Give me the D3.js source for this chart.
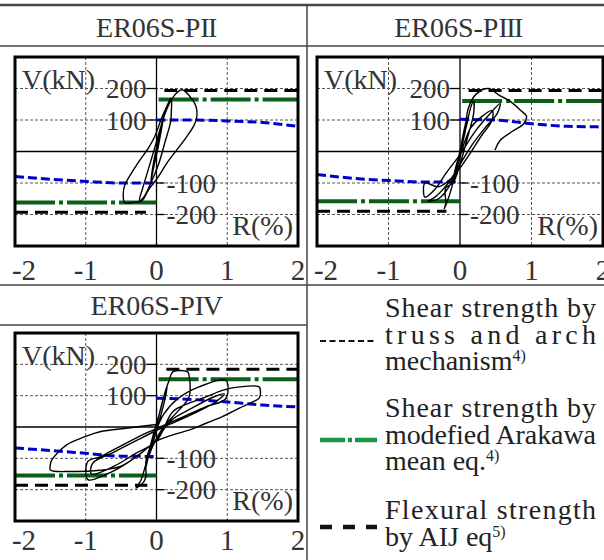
<!DOCTYPE html>
<html>
<head>
<meta charset="utf-8">
<script src="https://cdn.jsdelivr.net/npm/d3@7"></script>
<style>
  body { margin: 0; background: #fff; }
  svg { display: block; font-family: "Liberation Serif", "Times New Roman", serif; }
</style>
</head>
<body>
<svg id="fig" width="604" height="560"></svg>
<script>
// ---- data ----
const xTicks = [-2, -1, 0, 1, 2];
const yTicks = [200, 100, -100, -200];
const gridR = [-1, 1];

const titles = ["ER06S-P", "ER06S-P", "ER06S-P"];
const numerals = ["II", "III", "IV"];

// shear strength by truss and arch mechanism (blue), sampled at these |R|
const trussR = [0, 0.5, 1, 1.5, 2];
const trussPII = [100, 100, 97, 92, 80];
const trussPIIneg = [-100, -100, -95, -88, -79];
const trussPIII = [102, 100, 88, 80, 78];
const trussPIIIneg = [-97, -97, -92, -85, -73];
const trussPIV = [92, 88, 80, 70, 64];
const trussPIVneg = [-94, -93, -84, -75, -67];

// shear strength by modified Arakawa mean eq. (green) [+, -]
const arakawaPII = [165, -162];
const arakawaPIII = [160, -158];
const arakawaPIV = [152, -155];
const arakawaEdge = [0.03, 0];

// flexural strength by AIJ eq. (black dashed) [+, -] and where it stops near R = 0
const flexPII = [194, -193];
const flexPIII = [194, -190];
const flexPIV = [184, -186];
const flexEdgePII = [0.11, -0.15];
const flexEdgePIII = [0.12, -0.19];
const flexEdgePIV = [0.14, -0.13];

// load - drift hysteresis, [R(%), V(kN)]
const loopPII = [
  [0, 0], [0.04, 50], [0.08, 95], [0.1, 110], [0.07, 70], [0.02, 10], [-0.04, -50], [-0.08, -95],
  [-0.06, -60], [-0.02, -10], [0.03, 40], [0.1, 110], [0.17, 150], [0.21, 165], [0.21, 130],
  [0.2, 95], [0.12, 30], [0.03, -40], [-0.08, -100], [-0.18, -145], [-0.24, -155], [-0.2, -120],
  [-0.12, -60], [-0.04, 0], [0.05, 70], [0.12, 120], [0.2, 160], [0.28, 185], [0.36, 196],
  [0.46, 178], [0.56, 142], [0.57, 110], [0.53, 83], [0.42, 45], [0.28, 3], [0.14, -39],
  [0.02, -82], [-0.12, -124], [-0.2, -155], [-0.35, -162], [-0.45, -162], [-0.47, -134],
  [-0.45, -108], [-0.36, -71], [-0.24, -29], [-0.12, 9], [-0.03, 45], [0.08, 110], [0.2, 170]
];
const loopPIII = [
  [0, 0], [0.05, 60], [0.1, 110], [0.07, 60], [0, 0], [-0.05, -50], [-0.1, -95], [-0.07, -60],
  [0, 0], [0.1, 90], [0.15, 140], [0.19, 160], [0.19, 120], [0.1, 40], [0, -40], [-0.1, -100],
  [-0.2, -115], [-0.2, -165], [-0.22, -182], [-0.15, -140], [-0.05, -60], [0.05, 20], [0.15, 75],
  [0.3, 110], [0.45, 130], [0.45, 100], [0.3, 50], [0.1, -20], [-0.1, -80], [-0.3, -112],
  [-0.49, -100], [-0.49, -145], [-0.35, -120], [-0.2, -70], [0, -10], [0.2, 60], [0.4, 115],
  [0.56, 152], [0.52, 120], [0.35, 75], [0.15, 15], [-0.05, -60], [-0.2, -110], [-0.35, -145],
  [-0.45, -158], [-0.3, -150], [-0.15, -110], [-0.05, -50], [0.05, 40], [0.12, 140], [0.23, 183],
  [0.4, 200], [0.55, 178], [0.7, 160], [0.85, 130], [0.93, 112], [0.89, 88], [0.74, 65],
  [0.56, 35], [0.49, 5]
];
const loopPIV = [
  [0, 0], [0.06, 60], [0.12, 110], [0.15, 130], [0.12, 90], [0.04, 20], [-0.05, -50], [-0.12, -100],
  [-0.15, -130], [-0.12, -90], [-0.04, -20], [0.05, 50], [0.12, 110], [0.18, 150], [0.23, 176],
  [0.44, 176], [0.46, 165], [0.46, 96], [0.3, 50], [0.1, 0], [-0.05, -60], [-0.15, -120],
  [-0.22, -170], [-0.29, -195], [-0.18, -175], [-0.15, -158], [-0.15, -110], [-0.1, -70],
  [-0.02, -20], [0.1, 40], [0.3, 90], [0.6, 128], [0.98, 149], [0.98, 91], [0.7, 65], [0.4, 35],
  [0.1, 5], [-0.2, -25], [-0.5, -60], [-0.8, -95], [-0.97, -110], [-0.97, -168], [-0.7, -150],
  [-0.45, -120], [-0.2, -80], [0, -40], [0.2, 20], [0.5, 60], [0.8, 95], [0.96, 105], [0.8, 75],
  [0.5, 40], [0.1, 0], [-0.3, -45], [-0.6, -80], [-0.9, -115], [-0.92, -150], [-0.6, -125],
  [-0.3, -85], [0, -45], [0.23, 49], [0.46, 76], [0.7, 96], [0.93, 117], [1.17, 128], [1.45, 128],
  [1.47, 110], [1.45, 92], [1.36, 80], [1.17, 60], [0.93, 33], [0.7, 12], [0.46, -10], [0.23, -25],
  [0, -45], [-0.2, -80], [-0.5, -125], [-0.8, -138], [-1.2, -142], [-1.5, -137], [-1.5, -120],
  [-1.48, -105], [-1.27, -57], [-1.0, -30], [-0.8, -15], [-0.4, -3], [0, 8]
];

// ---- layout ----
const svg = d3.select("#fig");
const panels = [
  { left: 15, right: 298, top: 57, bottom: 246, tx: 156, ty: 37, lab: 280,
    truss: trussPII, trussNeg: trussPIIneg, arakawa: arakawaPII, flex: flexPII, flexEdge: flexEdgePII, loop: loopPII },
  { left: 317, right: 603, top: 57, bottom: 246, tx: 458, ty: 37, lab: 280,
    truss: trussPIII, trussNeg: trussPIIIneg, arakawa: arakawaPIII, flex: flexPIII, flexEdge: flexEdgePIII, loop: loopPIII },
  { left: 15, right: 298, top: 333, bottom: 521, tx: 156, ty: 315, lab: 550,
    truss: trussPIV, trussNeg: trussPIVneg, arakawa: arakawaPIV, flex: flexPIV, flexEdge: flexEdgePIV, loop: loopPIV }
];

// table rules
const rule = (x1, y1, x2, y2, w) => svg.append("line")
  .attr("x1", x1).attr("y1", y1).attr("x2", x2).attr("y2", y2)
  .attr("stroke", "#444").attr("stroke-width", w);
rule(0, 5, 604, 5, 2.5);
rule(0, 46, 604, 46, 1.5);
rule(0, 285, 604, 285, 1.5);
rule(0, 325, 307, 325, 1.5);
rule(307, 5, 307, 560, 1.5);

panels.forEach((p, i) => {
  const x = d3.scaleLinear().domain([-2, 2]).range([p.left, p.right]);
  const y = d3.scaleLinear().domain([-300, 300]).range([p.bottom, p.top]);
  const g = svg.append("g");

  // title
  const t = g.append("text").attr("x", p.tx).attr("y", p.ty)
    .attr("text-anchor", "middle").attr("font-size", 28).attr("fill", "#333")
    .text(titles[i]);
  t.append("tspan").attr("letter-spacing", -1.5).text(numerals[i]);

  // grid
  g.selectAll(".gx").data(gridR).join("line")
    .attr("x1", d => x(d)).attr("x2", d => x(d))
    .attr("y1", p.top).attr("y2", p.bottom)
    .attr("stroke", "#555").attr("stroke-width", 1).attr("stroke-dasharray", "3,2");
  g.selectAll(".gy").data(yTicks).join("line")
    .attr("x1", p.left).attr("x2", p.right)
    .attr("y1", d => y(d)).attr("y2", d => y(d))
    .attr("stroke", "#555").attr("stroke-width", 1).attr("stroke-dasharray", "3,2");
  g.append("line").attr("x1", x(0)).attr("x2", x(0)).attr("y1", p.top).attr("y2", p.bottom)
    .attr("stroke", "#000").attr("stroke-width", 1.3);
  g.append("line").attr("x1", p.left).attr("x2", p.right).attr("y1", y(0)).attr("y2", y(0))
    .attr("stroke", "#000").attr("stroke-width", 1.3);

  // y ticks and labels around the zero axis
  g.selectAll(".yt").data(yTicks).join("line")
    .attr("x1", d => d > 0 ? x(0) - 10 : x(0)).attr("x2", d => d > 0 ? x(0) : x(0) + 8)
    .attr("y1", d => y(d)).attr("y2", d => y(d))
    .attr("stroke", "#000").attr("stroke-width", 1.3);
  g.selectAll(".yl").data(yTicks).join("text")
    .attr("x", d => d > 0 ? x(0) - 10 : x(0) + 10)
    .attr("y", d => y(d)).attr("dy", "0.36em")
    .attr("text-anchor", d => d > 0 ? "end" : "start")
    .attr("font-size", 27).attr("fill", "#333")
    .text(d => d);

  const line = d3.line().x(d => x(d[0])).y(d => y(d[1]));

  // flexural strength
  g.append("path").attr("d", line([[p.flexEdge[0], p.flex[0]], [2, p.flex[0]]]))
    .attr("stroke", "#000").attr("stroke-width", 3).attr("stroke-dasharray", "13,7").attr("fill", "none");
  g.append("path").attr("d", line([[-2, p.flex[1]], [p.flexEdge[1], p.flex[1]]]))
    .attr("stroke", "#000").attr("stroke-width", 3).attr("stroke-dasharray", "13,7").attr("fill", "none");

  // Arakawa
  g.append("path").attr("d", line([[arakawaEdge[0], p.arakawa[0]], [2, p.arakawa[0]]]))
    .attr("stroke", "#0b5e1a").attr("stroke-width", 4).attr("stroke-dasharray", "40,4,4,4").attr("fill", "none");
  g.append("path").attr("d", line([[-2, p.arakawa[1]], [arakawaEdge[1], p.arakawa[1]]]))
    .attr("stroke", "#0b5e1a").attr("stroke-width", 4).attr("stroke-dasharray", "40,4,4,4").attr("fill", "none");

  // truss and arch
  const curve = d3.line().x(d => x(d[0])).y(d => y(d[1])).curve(d3.curveMonotoneX);
  g.append("path").attr("d", curve(trussR.map((r, k) => [r, p.truss[k]])))
    .attr("stroke", "#0000cc").attr("stroke-width", 3).attr("stroke-dasharray", "9,4").attr("fill", "none");
  g.append("path").attr("d", curve(trussR.map((r, k) => [-r, p.trussNeg[k]]).reverse()))
    .attr("stroke", "#0000cc").attr("stroke-width", 3).attr("stroke-dasharray", "9,4").attr("fill", "none");

  // hysteresis
  g.append("path")
    .attr("d", d3.line().x(d => x(d[0])).y(d => y(d[1])).curve(d3.curveCatmullRom.alpha(0.5))(p.loop))
    .attr("stroke", "#000").attr("stroke-width", 1.4).attr("fill", "none")
    .attr("stroke-linejoin", "round");

  // axis labels
  g.append("text").attr("x", p.left + 7).attr("y", p.top + 32)
    .attr("font-size", 28).attr("fill", "#333").text("V(kN)");
  g.append("text").attr("x", p.right - 5).attr("y", p.bottom - 11)
    .attr("text-anchor", "end").attr("font-size", 28).attr("fill", "#333").text("R(%)");

  // frame
  g.append("rect").attr("x", p.left).attr("y", p.top)
    .attr("width", p.right - p.left).attr("height", p.bottom - p.top)
    .attr("fill", "none").attr("stroke", "#000").attr("stroke-width", 3);

  // x tick labels
  g.selectAll(".xl").data(xTicks).join("text")
    .attr("x", d => x(d) + (d === -2 ? 9 : 0)).attr("y", p.lab)
    .attr("text-anchor", "middle").attr("font-size", 29).attr("fill", "#333")
    .text(d => d);
});

// ---- legend ----
const legendX = 385, legendW = 211;
const legendRows = [
  { lines: ["Shear strength by", "truss and arch", "mechanism"], sup: "4)", y: 317,
    sample: { y: 341, stroke: "#111", width: 2, dash: "6,3.5" } },
  { lines: ["Shear strength by", "modefied Arakawa", "mean eq."], sup: "4)", y: 417,
    sample: { y: 440, stroke: "#1b9548", width: 4.5, dash: "25,3,4,3" } },
  { lines: ["Flexural strength", "by AIJ eq"], sup: "5)", y: 519,
    sample: { y: 527, stroke: "#111", width: 4.5, dash: "12,11" } }
];
const lg = svg.append("g").attr("font-size", 28).attr("fill", "#222");
legendRows.forEach(row => {
  row.lines.forEach((s, k) => {
    const last = k === row.lines.length - 1;
    const t = lg.append("text").attr("x", legendX).attr("y", row.y + k * 26.5).text(s);
    if (!last) t.attr("textLength", legendW).attr("lengthAdjust", "spacing");
    else t.append("tspan").attr("font-size", 16).attr("dy", -9).text(row.sup);
  });
  lg.append("line").attr("x1", 320).attr("x2", 377)
    .attr("y1", row.sample.y).attr("y2", row.sample.y)
    .attr("stroke", row.sample.stroke).attr("stroke-width", row.sample.width)
    .attr("stroke-dasharray", row.sample.dash);
});
</script>
</body>
</html>
